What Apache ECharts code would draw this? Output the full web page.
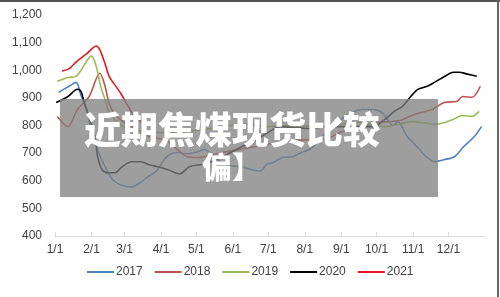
<!DOCTYPE html>
<html>
<head>
<meta charset="utf-8">
<script src="https://cdn.jsdelivr.net/npm/echarts@6/dist/echarts.min.js"></script>
<style>
html,body{margin:0;padding:0;background:#fff;}
#c{width:500px;height:297px;}
</style>
</head>
<body>
<div id="c"></div>
<script>
// Tick labels (month starts, day-of-year)
var monthDays = [0,31,59,90,120,151,181,212,243,273,304,334];
var monthLabels = ['1/1','2/1','3/1','4/1','5/1','6/1','7/1','8/1','9/1','10/1','11/1','12/1'];
var yTicks = [400,500,600,700,800,900,1000,1100,1200];

var seriesNames = ['2017','2018','2019','2020','2021'];

// day-of-year and values for each year
var days2017 = [3,12,18,22,27,31,36,42,49,56,65,72,78,86,95,104,112,121,127,133,140,148,158,167,174,180,185,193,202,208,216,223,229,236,244,252,261,270,278,287,291,299,308,316,322,330,339,347,356,362];
var vals2017 = [920,942,956,910,858,774,713,655,604,585,578,592,612,635,687,702,697,705,713,695,670,655,651,640,635,660,665,684,687,700,713,740,770,800,825,847,858,858,845,800,814,760,720,684,669,676,687,724,760,796];

var days2018 = [2,11,19,29,38,42,46,51,59,68,80,89,96,104,112,121,130,140,152,165,178,191,202,216,227,244,256,273,284,294,305,320,331,341,346,354,361];
var vals2018 = [833,796,858,905,989,950,880,840,810,790,760,752,742,713,687,684,690,700,710,720,730,740,745,749,749,778,785,811,814,820,840,858,884,887,905,902,942];

var days2019 = [2,11,18,31,35,39,42,46,51,59,72,84,100,114,134,148,165,180,199,222,241,258,280,291,303,311,322,331,338,346,354,360];
var vals2019 = [960,974,978,1051,1014,938,900,847,820,795,780,775,774,780,790,800,804,796,800,797,805,811,796,804,814,811,804,811,822,836,833,851];

var days2020 = [1,11,19,22,25,29,34,36,40,45,51,57,65,73,80,87,96,106,114,123,130,142,157,171,182,191,202,216,230,244,256,270,280,288,295,302,308,316,322,331,338,343,350,358];
var vals2020 = [883,905,931,924,880,829,760,690,640,629,629,651,669,669,658,651,640,625,651,658,665,687,720,749,778,796,793,789,796,796,796,796,822,851,869,905,931,942,956,978,993,993,986,978];

var days2021 = [6,12,18,27,35,38,42,46,52,56,62,67,76];
var vals2021 = [997,1006,1030,1060,1088,1075,1030,978,940,915,870,835,804];

var colors = ['#4F81BD','#C0504D','#9BBB59','#000000','#E3191E'];
var allDays = [days2017,days2018,days2019,days2020,days2021];
var allVals = [vals2017,vals2018,vals2019,vals2020,vals2021];

function pairs(d,v){var r=[];for(var i=0;i<d.length;i++){r.push([d[i],v[i]]);}return r;}

var series = seriesNames.map(function(n,i){
  return {
    name:n, type:'line', data:pairs(allDays[i],allVals[i]),
    showSymbol:false, symbol:'none', smooth:0.3,
    lineStyle:{width:1.6,color:colors[i]}, itemStyle:{color:colors[i]}, z:2
  };
});

var chart = echarts.init(document.getElementById('c'),null,{renderer:'canvas'});
chart.setOption({
  animation:false,
  backgroundColor:'#ffffff',
  textStyle:{fontFamily:'Liberation Sans, Arial, sans-serif'},
  grid:{left:55,right:15,top:15,bottom:61,containLabel:false},
  legend:{
    data:seriesNames, left:82, bottom:14, icon:'rect', itemWidth:27, itemHeight:2,
    itemGap:12, textStyle:{fontSize:12,color:'#404040',padding:[0,0,0,-3]}
  },
  xAxis:{
    type:'value', min:0, max:365,
    axisLine:{show:true,lineStyle:{color:'#d9d9d9',width:1}},
    axisTick:{show:true,customValues:monthDays,length:4,inside:true,lineStyle:{color:'#d9d9d9'}},
    axisLabel:{customValues:monthDays,fontSize:12,color:'#404040',margin:8,
      formatter:function(v){var k=monthDays.indexOf(Math.round(v));return k>=0?monthLabels[k]:'';}},
    splitLine:{show:false}
  },
  yAxis:{
    type:'value', min:400, max:1200, interval:100,
    axisLine:{show:false}, axisTick:{show:false}, splitLine:{show:false},
    axisLabel:{fontSize:12,color:'#404040',margin:13,
      formatter:function(v){return yTicks.indexOf(v)>=0?v.toLocaleString('en-US'):'';}}
  },
  series:series,
  graphic:[
    {type:'rect',shape:{x:60,y:99,width:378,height:98},style:{fill:'rgba(128,128,128,0.76)'},z:10},
    {type:'text',x:232,y:130,z:11,style:{text:'近期焦煤现货比较',fill:'#ffffff',font:'900 37px "Noto Sans CJK SC"',textAlign:'center',textVerticalAlign:'middle'}},
    {type:'text',x:232,y:167,z:11,style:{text:'偏】',fill:'#ffffff',font:'900 30px "Noto Sans CJK SC"',textAlign:'center',textVerticalAlign:'middle'}},
    {type:'rect',shape:{x:0,y:0,width:500,height:2},style:{fill:'#555555'},z:12},
    {type:'rect',shape:{x:497,y:0,width:2,height:297},style:{fill:'#666666'},z:12}
  ]
});
</script>
</body>
</html>
